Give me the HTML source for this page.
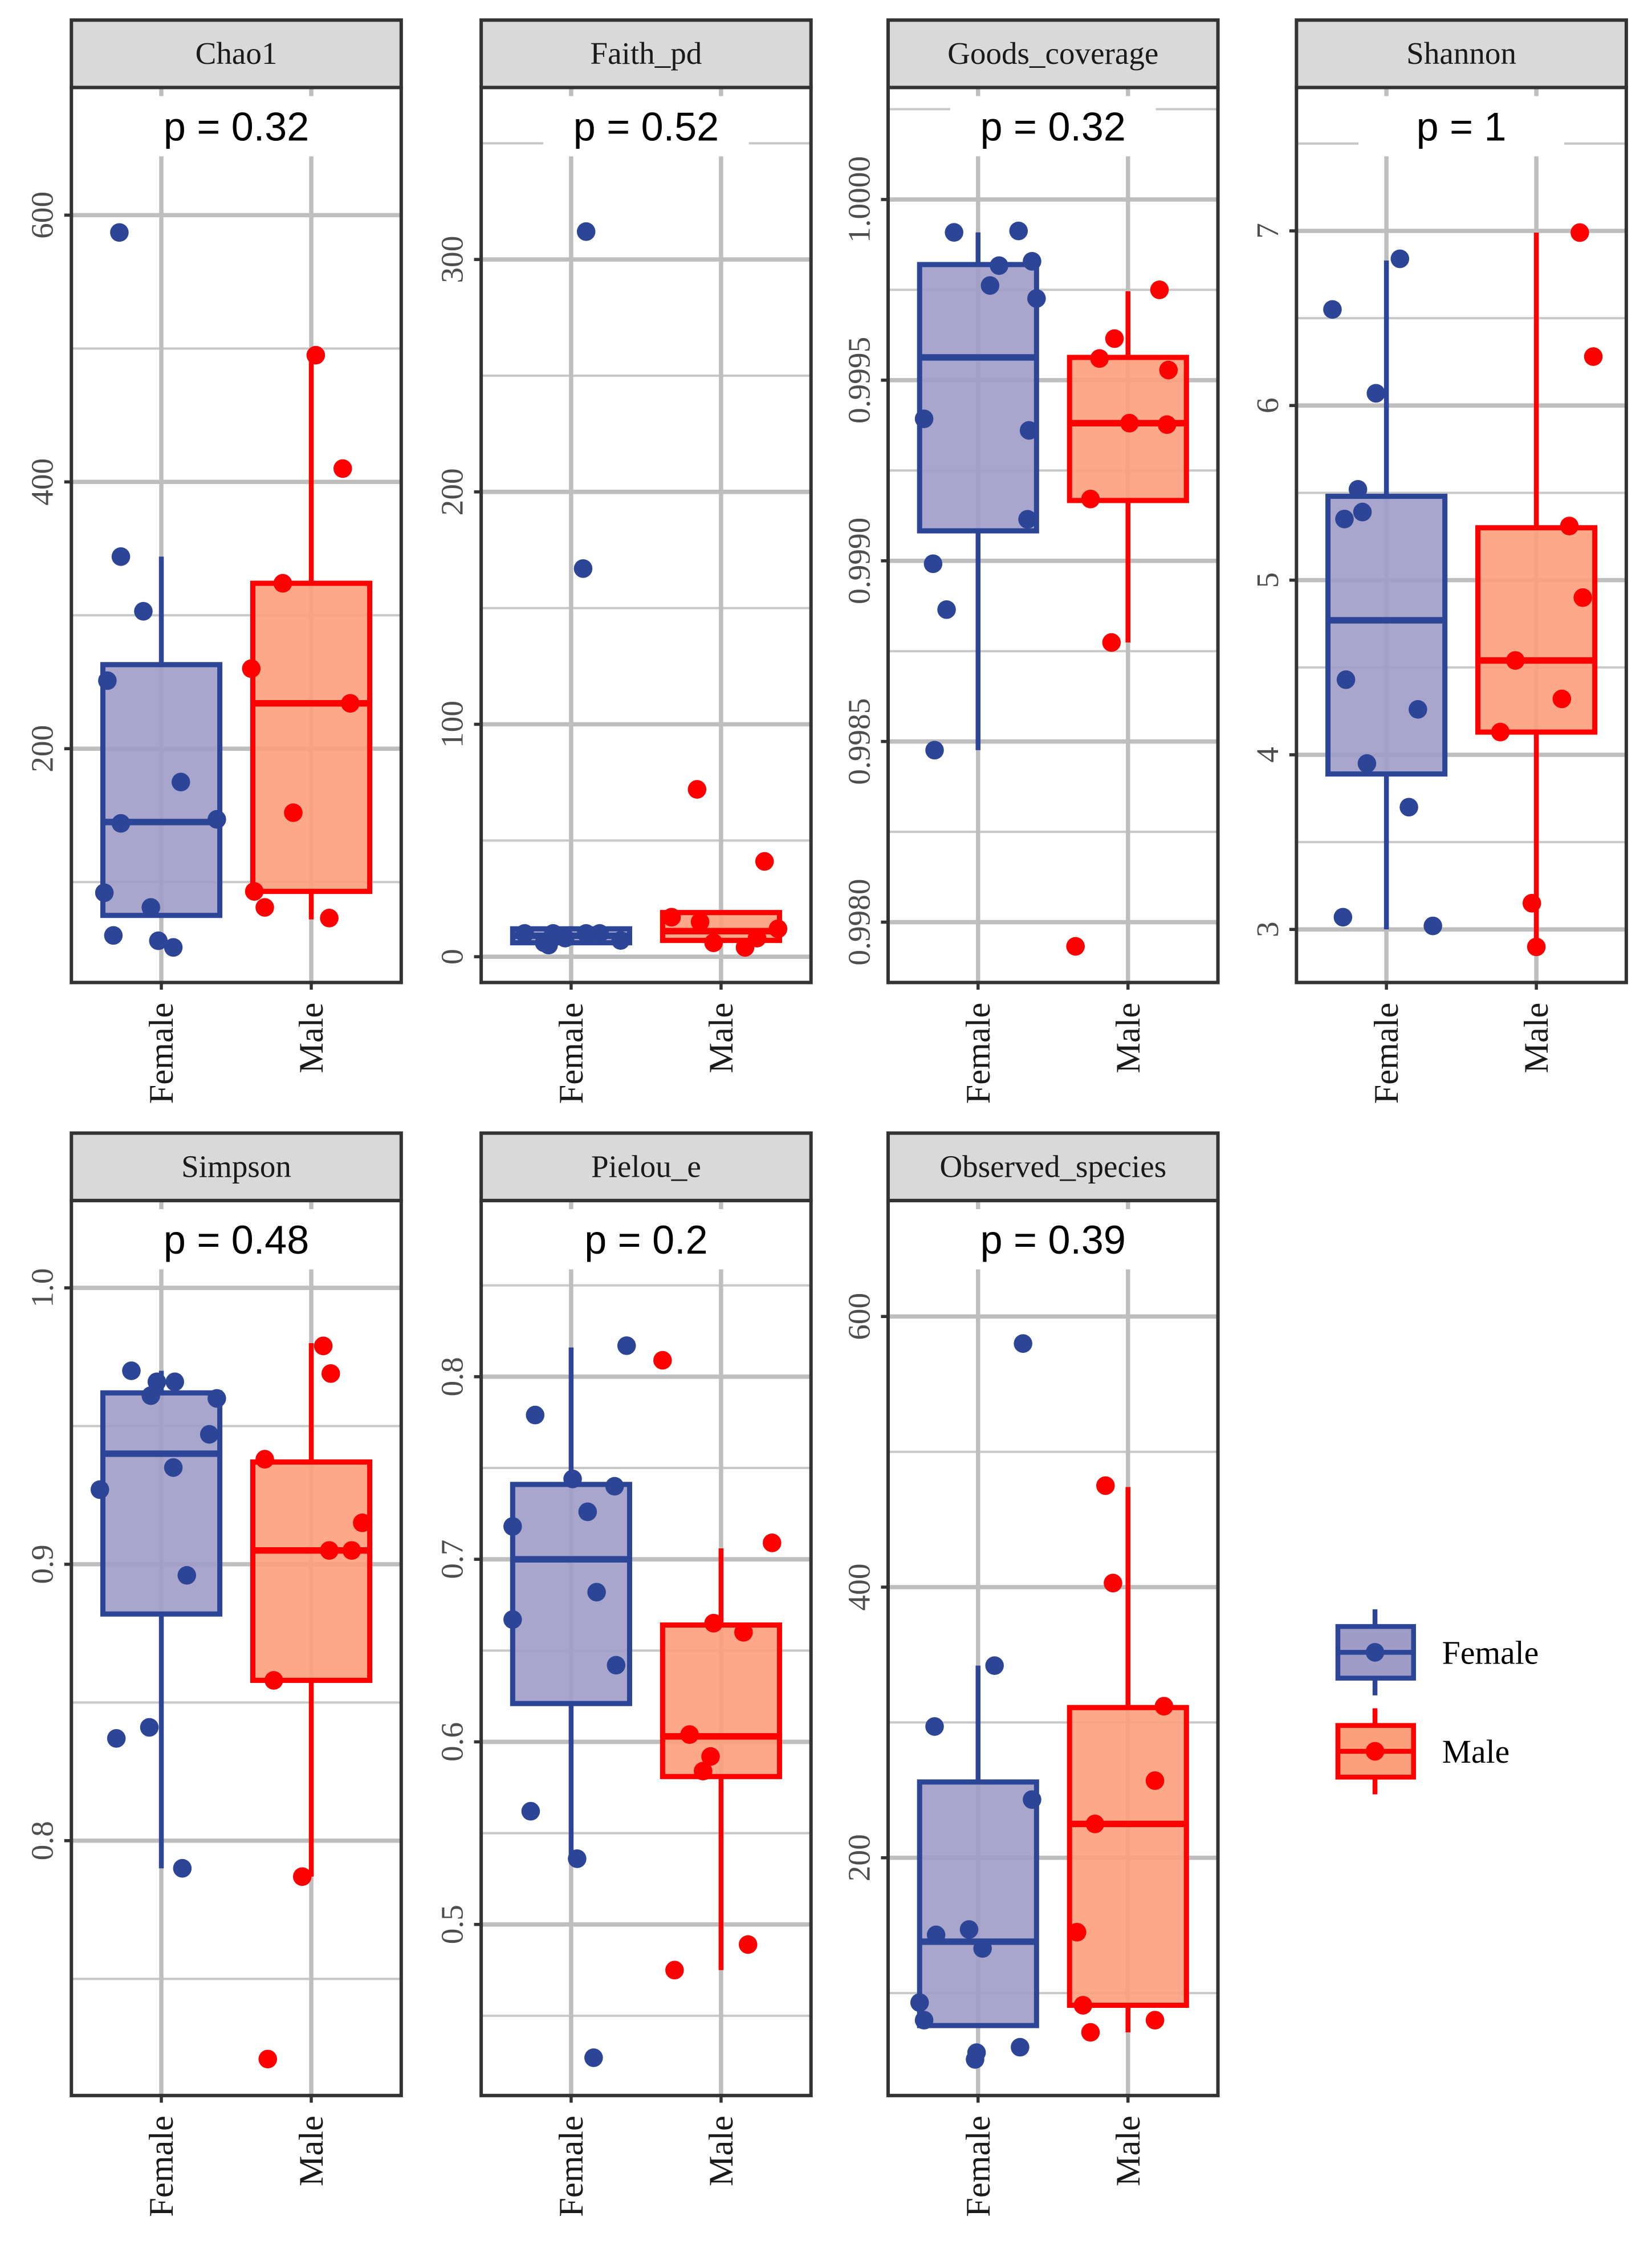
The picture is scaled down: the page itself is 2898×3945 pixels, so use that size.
<!DOCTYPE html>
<html><head><meta charset="utf-8"><style>
html,body{margin:0;padding:0;background:#fff}
svg{display:block}
</style></head><body>
<svg id="chart" xmlns="http://www.w3.org/2000/svg" width="2898" height="3945" viewBox="0 0 1157 1568" preserveAspectRatio="none"></svg>
<script>
// ---- data ----
const groups = ["Female","Male"];
const chao1Female = [587,344,303,251,175,144,147,92,81,60,56,51];
const chao1FemaleJit = [-0.28,-0.27,-0.12,-0.36,0.13,-0.27,0.37,-0.38,-0.07,-0.32,-0.02,0.08];
const chao1Male = [495,410,324,260,234,152,93,81,73];
const chao1MaleJit = [0.03,0.21,-0.19,-0.4,0.26,-0.12,-0.38,-0.31,0.12];
const chao1Stats = [[75,145,263,75,344],[93,234,324,72,495]];
const faithFemale = [312,167,10,6,10,8,10,10,7,5];
const faithFemaleJit = [0.1,0.08,-0.31,-0.18,-0.12,-0.04,0.1,0.19,0.33,-0.15];
const faithMale = [72,41,17,15,6,4,12,8];
const faithMaleJit = [-0.16,0.29,-0.33,-0.14,-0.05,0.16,0.38,0.24];
const faithStats = [[6,9,12,6,12],[7,11,19,7,19]];
const goodsFemale = [0.999909,0.999913,0.999817,0.999829,0.999762,0.999726,0.999393,0.999361,0.999115,0.998992,0.998865,0.998476];
const goodsFemaleJit = [-0.16,0.27,0.14,0.36,0.08,0.39,-0.36,0.34,0.33,-0.3,-0.21,-0.29];
const goodsMale = [0.99975,0.999615,0.99956,0.999528,0.999381,0.999377,0.999171,0.998774,0.997933];
const goodsMaleJit = [0.21,-0.09,-0.19,0.27,0.01,0.26,-0.25,-0.11,-0.35];
const goodsStats = [[0.999083,0.999563,0.99982,0.998476,0.999909],[0.999167,0.999381,0.999563,0.998774,0.999746]];
const shannonFemale = [6.55,6.84,6.07,5.52,5.35,5.39,4.43,4.26,3.95,3.70,3.07,3.02];
const shannonFemaleJit = [-0.36,0.09,-0.07,-0.19,-0.28,-0.16,-0.27,0.21,-0.13,0.15,-0.29,0.31];
const shannonMale = [6.99,6.28,5.31,4.90,4.54,4.32,4.13,3.15,2.9];
const shannonMaleJit = [0.29,0.38,0.22,0.31,-0.14,0.17,-0.24,-0.03,0.0];
const shannonStats = [[3.89,4.77,5.48,3.0,6.83],[4.13,4.54,5.30,2.9,6.99]];
const simpsonFemale = [0.970,0.966,0.966,0.961,0.960,0.947,0.935,0.927,0.896,0.841,0.837,0.790];
const simpsonFemaleJit = [-0.2,-0.03,0.09,-0.07,0.37,0.32,0.08,-0.41,0.17,-0.08,-0.3,0.14];
const simpsonMale = [0.979,0.969,0.938,0.915,0.905,0.905,0.858,0.787,0.721];
const simpsonMaleJit = [0.08,0.13,-0.31,0.34,0.12,0.27,-0.25,-0.06,-0.29];
const simpsonStats = [[0.882,0.940,0.962,0.790,0.970],[0.858,0.905,0.937,0.787,0.980]];
const pielouFemale = [0.817,0.779,0.744,0.718,0.740,0.726,0.667,0.682,0.642,0.562,0.536,0.427];
const pielouFemaleJit = [0.37,-0.24,0.01,-0.39,0.29,0.11,-0.39,0.17,0.3,-0.27,0.04,0.15];
const pielouMale = [0.809,0.709,0.665,0.660,0.604,0.592,0.584,0.475,0.489];
const pielouMaleJit = [-0.39,0.34,-0.05,0.15,-0.21,-0.07,-0.12,-0.31,0.18];
const pielouStats = [[0.621,0.700,0.741,0.536,0.816],[0.581,0.603,0.664,0.475,0.706]];
const obsFemale = [580,342,297,243,143,147,133,93,80,56,51,60];
const obsFemaleJit = [0.3,0.11,-0.29,0.36,-0.28,-0.06,0.03,-0.39,-0.36,-0.01,-0.02,0.28];
const obsMale = [475,403,312,257,225,145,91,80,71];
const obsMaleJit = [-0.15,-0.1,0.24,0.18,-0.22,-0.34,-0.3,0.18,-0.25];
const obsStats = [[76,138,256,76,342],[91,225,311,71,474]];
const pLabels = ["p = 0.32","p = 0.52","p = 0.32","p = 1","p = 0.48","p = 0.2","p = 0.39"];
const titles = ["Chao1","Faith_pd","Goods_coverage","Shannon","Simpson","Pielou_e","Observed_species"];
const chao1Ticks = [200,400,600], chao1TickLabels = ["200","400","600"];
const faithTicks = [0,100,200,300], faithTickLabels = ["0","100","200","300"];
const goodsTicks = [0.998,0.9985,0.999,0.9995,1.0], goodsTickLabels = ["0.9980","0.9985","0.9990","0.9995","1.0000"];
const shannonTicks = [3,4,5,6,7], shannonTickLabels = ["3","4","5","6","7"];
const simpsonTicks = [0.8,0.9,1.0], simpsonTickLabels = ["0.8","0.9","1.0"];
const pielouTicks = [0.5,0.6,0.7,0.8], pielouTickLabels = ["0.5","0.6","0.7","0.8"];
const obsTicks = [200,400,600], obsTickLabels = ["200","400","600"];
const domains = [[24.7,695.7],[-11.1,374],[0.997833,1.00031],[2.696,7.821],[0.7078,1.0316],[0.4063,0.8965],[24.3,685.7]];

const panels = [
 {f:chao1Female,fj:chao1FemaleJit,m:chao1Male,mj:chao1MaleJit,s:chao1Stats,t:chao1Ticks,tl:chao1TickLabels},
 {f:faithFemale,fj:faithFemaleJit,m:faithMale,mj:faithMaleJit,s:faithStats,t:faithTicks,tl:faithTickLabels},
 {f:goodsFemale,fj:goodsFemaleJit,m:goodsMale,mj:goodsMaleJit,s:goodsStats,t:goodsTicks,tl:goodsTickLabels},
 {f:shannonFemale,fj:shannonFemaleJit,m:shannonMale,mj:shannonMaleJit,s:shannonStats,t:shannonTicks,tl:shannonTickLabels},
 {f:simpsonFemale,fj:simpsonFemaleJit,m:simpsonMale,mj:simpsonMaleJit,s:simpsonStats,t:simpsonTicks,tl:simpsonTickLabels},
 {f:pielouFemale,fj:pielouFemaleJit,m:pielouMale,mj:pielouMaleJit,s:pielouStats,t:pielouTicks,tl:pielouTickLabels},
 {f:obsFemale,fj:obsFemaleJit,m:obsMale,mj:obsMaleJit,s:obsStats,t:obsTicks,tl:obsTickLabels}
];
const lefts = [50,337,622,908,50,337,622];
const tops = [61,61,61,61,837,837,837];
const W = 231, H = 624, STRIP = 47;
const lineCol = ["#2c4596","#ff0000"], fillCol = ["#a09cc8","#fc9f7c"];
const NS = "http://www.w3.org/2000/svg";
const svg = document.getElementById("chart");
function mk(tag, attrs, parent, txt){
  const e = document.createElementNS(NS, tag);
  for (const k in attrs) e.setAttribute(k, attrs[k]);
  if (txt !== undefined) e.textContent = txt;
  (parent||svg).appendChild(e);
  return e;
}
const serif = '"Liberation Serif", serif', sans = '"Liberation Sans", sans-serif';

panels.forEach((p, i) => {
  const L = lefts[i], T = tops[i];
  const [d0, d1] = domains[i];
  const y = v => T + H - (v - d0) / (d1 - d0) * H;
  const xc = c => L + W * ((c + 1) - 0.4) / 2.2;
  const g = mk("g", {});
  
  
  const step = p.t[1] - p.t[0];
  for (let k = -1; k < p.t.length; k++) {
    const v = p.t[0] + step * (k + 0.5);
    if (v > d0 && v < d1) mk("line", {x1:L, x2:L+W, y1:y(v), y2:y(v), stroke:"#c8c8c8", "stroke-width":1.6}, g);
  }
  p.t.forEach(v => mk("line", {x1:L, x2:L+W, y1:y(v), y2:y(v), stroke:"#bebebe", "stroke-width":3}, g));
  [0,1].forEach(c => mk("line", {x1:xc(c), x2:xc(c), y1:T, y2:T+H, stroke:"#bebebe", "stroke-width":3}, g));
  [0,1].forEach(c => {
    const s = p.s[c]; const cx = xc(c), hw = W * 0.39 / 2.2;
    const bg = mk("g", {}, g);
    
    
    mk("line", {x1:cx, x2:cx, y1:y(s[2]), y2:y(s[4]), stroke:lineCol[c], "stroke-width":3.4}, bg);
    mk("line", {x1:cx, x2:cx, y1:y(s[0]), y2:y(s[3]), stroke:lineCol[c], "stroke-width":3.4}, bg);
    mk("rect", {x:cx-hw, y:y(s[2]), width:2*hw, height:Math.max(1,y(s[0])-y(s[2])), fill:fillCol[c], "fill-opacity":0.9, stroke:lineCol[c], "stroke-width":3.6}, bg);
    mk("line", {x1:cx-hw, x2:cx+hw, y1:y(s[1]), y2:y(s[1]), stroke:lineCol[c], "stroke-width":4.5}, bg);
  });
  [[p.f,p.fj],[p.m,p.mj]].forEach(([vals,jit], c) => {
    vals.forEach((v, k) => {
      const pt = mk("circle", {cx:xc(c) + jit[k]*W/2.2, cy:y(v), r:6.5, fill:lineCol[c]}, g);
      
      
    });
  });
  mk("rect", {x:L+W/2-72, y:T+6, width:144, height:42, fill:"#fff"}, g);
  const pl = mk("text", {x:L+W/2, y:T+37, "text-anchor":"middle", "font-family":sans, "font-size":28, fill:"#000"}, g, pLabels[i]);
  
  
  mk("rect", {x:L, y:T, width:W, height:H, fill:"none", stroke:"#333", "stroke-width":2.4}, g);
  mk("rect", {x:L, y:T-STRIP, width:W, height:STRIP, fill:"#d9d9d9", stroke:"#333", "stroke-width":2.4}, g);
  const st = mk("text", {x:L+W/2, y:T-STRIP/2+7, "text-anchor":"middle", "font-family":serif, "font-size":22, fill:"#1a1a1a"}, g, titles[i]);
  
  
  p.t.forEach((v, k) => {
    mk("line", {x1:L-5, x2:L, y1:y(v), y2:y(v), stroke:"#333", "stroke-width":2.2}, g);
    const tl = mk("text", {x:0, y:0, transform:`translate(${L-13},${y(v)}) rotate(-90)`, "text-anchor":"middle", "font-family":serif, "font-size":22, fill:"#4d4d4d"}, g, p.tl[k]);
    
    
  });
  [0,1].forEach(c => {
    mk("line", {x1:xc(c), x2:xc(c), y1:T+H, y2:T+H+5, stroke:"#333", "stroke-width":2.2}, g);
    const xl = mk("text", {x:0, y:0, transform:`translate(${xc(c)+8},${T+H+14}) rotate(-90)`, "text-anchor":"end", "font-family":serif, "font-size":24, fill:"#1a1a1a"}, g, groups[c]);
    
    
  });
});

const lg = mk("g", {});


[[1152,0],[1221,1]].forEach(([cy, c]) => {
  const e = mk("g", {}, lg);
  
  
  mk("line", {x1:963, x2:963, y1:cy-30, y2:cy+30, stroke:lineCol[c], "stroke-width":3.4}, e);
  mk("rect", {x:937, y:cy-18, width:53, height:36, fill:fillCol[c], stroke:lineCol[c], "stroke-width":3.4}, e);
  mk("line", {x1:937, x2:990, y1:cy, y2:cy, stroke:lineCol[c], "stroke-width":3.4}, e);
  mk("circle", {cx:963, cy:cy, r:6.5, fill:lineCol[c]}, e);
  mk("text", {x:1010, y:cy+8, "font-family":serif, "font-size":23, fill:"#000"}, e, groups[c]);
});
</script>
</body></html>
